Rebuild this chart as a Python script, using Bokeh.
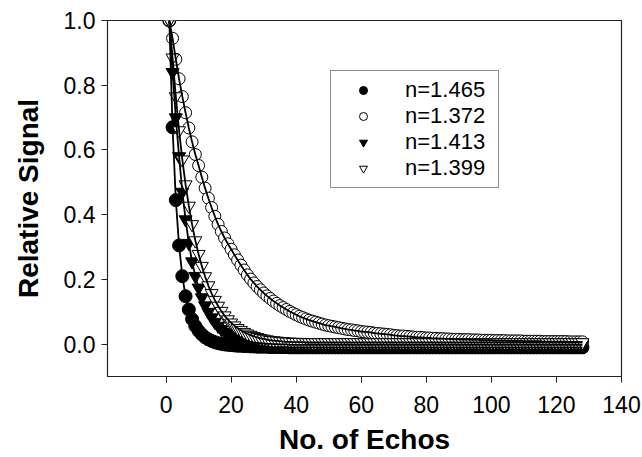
from bokeh.plotting import figure
from bokeh.models import Range1d, Legend, LegendItem, FixedTicker, NumeralTickFormatter
from bokeh.embed import file_html
from bokeh.resources import INLINE

echoes = list(range(1, 129))

labels = ["n=1.465", "n=1.372", "n=1.413", "n=1.399"]

sig_1465 = [
    1.000, 0.670, 0.445, 0.305, 0.210, 0.148, 0.107, 0.077, 0.056, 0.041,
    0.030, 0.021, 0.015, 0.010, 0.006, 0.003, 0.001, -0.001, -0.002, -0.003,
    -0.004, -0.005, -0.005, -0.006, -0.006, -0.007, -0.007, -0.008, -0.008, -0.008,
    -0.008, -0.009, -0.009, -0.009, -0.009, -0.009, -0.009, -0.010, -0.010, -0.010,
    -0.010, -0.010, -0.010, -0.010, -0.010, -0.010, -0.010, -0.010, -0.010, -0.010,
    -0.010, -0.010, -0.010, -0.010, -0.010, -0.010, -0.010, -0.010, -0.010, -0.010,
    -0.010, -0.010, -0.010, -0.010, -0.010, -0.010, -0.010, -0.010, -0.010, -0.010,
    -0.010, -0.010, -0.010, -0.010, -0.010, -0.010, -0.010, -0.010, -0.010, -0.010,
    -0.010, -0.010, -0.010, -0.010, -0.010, -0.010, -0.010, -0.010, -0.010, -0.010,
    -0.010, -0.010, -0.010, -0.010, -0.010, -0.010, -0.010, -0.010, -0.010, -0.010,
    -0.010, -0.010, -0.010, -0.010, -0.010, -0.010, -0.010, -0.010, -0.010, -0.010,
    -0.010, -0.010, -0.010, -0.010, -0.010, -0.010, -0.010, -0.010, -0.010, -0.010,
    -0.010, -0.010, -0.010, -0.010, -0.010, -0.010, -0.010, -0.010,
]

sig_1372 = [
    1.000, 0.945, 0.880, 0.820, 0.765, 0.715, 0.668, 0.625, 0.586, 0.552,
    0.516, 0.482, 0.451, 0.422, 0.395, 0.370, 0.348, 0.328, 0.310, 0.293,
    0.276, 0.260, 0.244, 0.229, 0.214, 0.201, 0.189, 0.178, 0.168, 0.158,
    0.149, 0.141, 0.133, 0.126, 0.119, 0.113, 0.107, 0.101, 0.096, 0.091,
    0.086, 0.082, 0.078, 0.074, 0.071, 0.068, 0.065, 0.062, 0.059, 0.057,
    0.055, 0.053, 0.051, 0.049, 0.047, 0.045, 0.044, 0.042, 0.041, 0.039,
    0.038, 0.037, 0.036, 0.034, 0.033, 0.032, 0.031, 0.030, 0.029, 0.027,
    0.026, 0.025, 0.025, 0.024, 0.023, 0.022, 0.021, 0.021, 0.020, 0.019,
    0.019, 0.018, 0.018, 0.017, 0.017, 0.016, 0.016, 0.015, 0.015, 0.015,
    0.014, 0.014, 0.014, 0.013, 0.013, 0.013, 0.012, 0.012, 0.012, 0.012,
    0.011, 0.011, 0.011, 0.011, 0.010, 0.010, 0.010, 0.010, 0.010, 0.009,
    0.009, 0.009, 0.009, 0.009, 0.009, 0.008, 0.008, 0.008, 0.008, 0.008,
    0.008, 0.008, 0.008, 0.007, 0.007, 0.007, 0.007, 0.007,
]

sig_1413 = [
    1.000, 0.840, 0.700, 0.580, 0.470, 0.385, 0.312, 0.255, 0.210, 0.174,
    0.144, 0.119, 0.099, 0.082, 0.068, 0.056, 0.046, 0.038, 0.031, 0.026,
    0.021, 0.017, 0.014, 0.011, 0.009, 0.007, 0.005, 0.004, 0.003, 0.002,
    0.001, 0.001, 0.000, 0.000, -0.001, -0.001, -0.001, -0.002, -0.002, -0.002,
    -0.002, -0.002, -0.002, -0.002, -0.002, -0.002, -0.002, -0.002, -0.002, -0.002,
    -0.002, -0.002, -0.002, -0.002, -0.002, -0.002, -0.002, -0.002, -0.002, -0.002,
    -0.002, -0.002, -0.002, -0.002, -0.002, -0.002, -0.002, -0.002, -0.002, -0.002,
    -0.002, -0.002, -0.002, -0.002, -0.002, -0.002, -0.002, -0.002, -0.002, -0.002,
    -0.002, -0.002, -0.002, -0.002, -0.002, -0.002, -0.002, -0.002, -0.002, -0.002,
    -0.002, -0.002, -0.002, -0.002, -0.002, -0.002, -0.002, -0.002, -0.002, -0.002,
    -0.002, -0.002, -0.002, -0.002, -0.002, -0.002, -0.002, -0.002, -0.002, -0.002,
    -0.002, -0.002, -0.002, -0.002, -0.002, -0.002, -0.002, -0.002, -0.002, -0.002,
    -0.002, -0.002, -0.002, -0.002, -0.002, -0.002, -0.002, -0.002,
]

sig_1399 = [
    1.000, 0.885, 0.765, 0.660, 0.570, 0.493, 0.427, 0.370, 0.320, 0.278,
    0.241, 0.209, 0.181, 0.157, 0.136, 0.118, 0.102, 0.088, 0.076, 0.066,
    0.057, 0.049, 0.043, 0.037, 0.032, 0.028, 0.024, 0.021, 0.018, 0.016,
    0.014, 0.012, 0.011, 0.010, 0.009, 0.008, 0.007, 0.007, 0.006, 0.006,
    0.006, 0.006, 0.005, 0.005, 0.005, 0.005, 0.005, 0.005, 0.005, 0.005,
    0.005, 0.005, 0.005, 0.005, 0.005, 0.005, 0.005, 0.005, 0.005, 0.005,
    0.005, 0.005, 0.005, 0.005, 0.005, 0.005, 0.005, 0.005, 0.005, 0.005,
    0.005, 0.005, 0.005, 0.005, 0.005, 0.005, 0.005, 0.005, 0.005, 0.005,
    0.005, 0.005, 0.005, 0.005, 0.005, 0.005, 0.005, 0.005, 0.005, 0.005,
    0.005, 0.005, 0.005, 0.005, 0.005, 0.005, 0.005, 0.005, 0.005, 0.005,
    0.005, 0.005, 0.005, 0.005, 0.005, 0.005, 0.005, 0.005, 0.005, 0.005,
    0.005, 0.005, 0.005, 0.005, 0.005, 0.005, 0.005, 0.005, 0.005, 0.005,
    0.005, 0.005, 0.005, 0.005, 0.005, 0.005, 0.005, 0.005,
]

x_ticks = [0, 20, 40, 60, 80, 100, 120, 140]
y_ticks = [0.0, 0.2, 0.4, 0.6, 0.8, 1.0]

FONT = "Liberation Sans"

p = figure(width=642, height=457, output_backend="svg", toolbar_location=None,
           x_range=Range1d(-18, 140), y_range=Range1d(-0.1, 1.0),
           min_border_left=107, min_border_right=21, min_border_top=20,
           min_border_bottom=79)
p.grid.visible = False
p.outline_line_color = "#222222"
p.outline_line_width = 1.2
p.background_fill_color = "white"
p.border_fill_color = "white"

for ax in (p.xaxis[0], p.yaxis[0]):
    ax.axis_line_color = "#222222"
    ax.major_tick_line_color = "#222222"
    ax.major_tick_out = 6
    ax.major_tick_in = 0
    ax.minor_tick_line_color = None
    ax.major_label_text_font = FONT
    ax.major_label_text_font_size = "23px"
    ax.major_label_text_color = "black"
    ax.axis_label_text_font = FONT
    ax.axis_label_text_font_style = "bold"
    ax.axis_label_text_font_size = "28px"
    ax.axis_label_text_color = "black"

p.xaxis.ticker = FixedTicker(ticks=x_ticks)
p.yaxis.ticker = FixedTicker(ticks=y_ticks)
p.yaxis.formatter = NumeralTickFormatter(format="0.0")
p.xaxis.axis_label = "No. of Echos"
p.yaxis.axis_label = "Relative Signal"
p.xaxis.major_label_standoff = 13
p.xaxis.axis_label_standoff = 8
p.yaxis.major_label_standoff = 6
p.yaxis.axis_label_standoff = 17

r1 = p.scatter(echoes, sig_1465, marker="circle", size=13, fill_color="black", line_color="black")
r2 = p.scatter(echoes, sig_1372, marker="circle", size=12, fill_color="white", line_color="black", line_width=1)
r3 = p.scatter(echoes, sig_1413, marker="inverted_triangle", size=13, fill_color="black", line_color="black")
r4 = p.scatter(echoes, sig_1399, marker="inverted_triangle", size=13, fill_color="white", line_color="black", line_width=1)

for s in (sig_1465, sig_1372, sig_1413, sig_1399):
    p.line(echoes, s, line_color="black", line_width=1.8)

legend = Legend(items=[LegendItem(label=labels[0], renderers=[r1]),
                       LegendItem(label=labels[1], renderers=[r2]),
                       LegendItem(label=labels[2], renderers=[r3]),
                       LegendItem(label=labels[3], renderers=[r4])],
                location=(223, 188))
legend.border_line_color = "#222222"
legend.border_line_width = 1.2
legend.background_fill_color = "white"
legend.background_fill_alpha = 1
legend.label_text_font = FONT
legend.label_text_font_size = "22px"
legend.label_text_color = "black"
legend.padding = 6
legend.margin = 0
legend.spacing = 0
legend.glyph_width = 52
legend.glyph_height = 20
legend.label_height = 20
legend.label_standoff = 16
legend.label_width = 87
p.add_layout(legend)

open("out.html", "w").write(file_html(p, INLINE))
